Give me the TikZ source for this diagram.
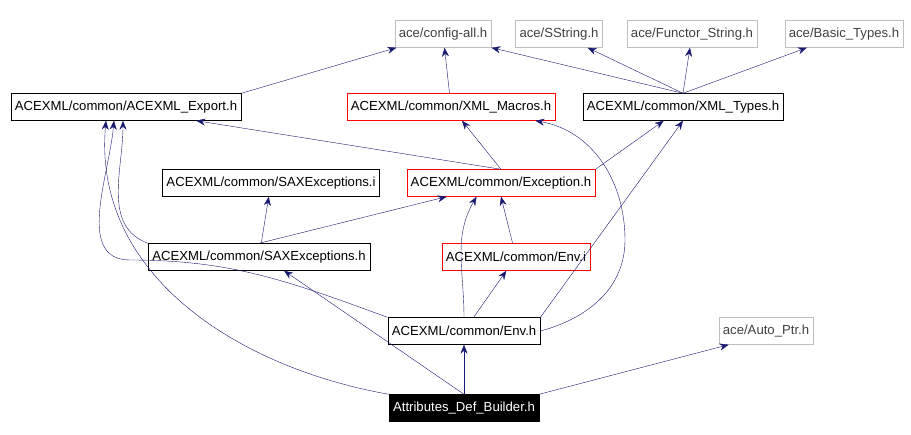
\documentclass[tikz,border=0pt]{standalone}
\usepackage{fontspec}
\setmainfont{Liberation Sans}
\usetikzlibrary{arrows.meta,positioning}
\definecolor{edgeblue}{RGB}{25,25,112}
\definecolor{grayline}{RGB}{191,191,191}

\begin{document}
\begin{tikzpicture}[
  x=1bp, y=-1bp,
  box/.style={rectangle, draw, minimum height=27bp, inner xsep=4bp, font=\fontsize{13.2}{15}\selectfont},
  sysbox/.style={box, draw=grayline, text=black!75},
  redbox/.style={box, draw=red},
  rootbox/.style={box, fill=black, text=white},
  arr/.style={{Stealth[length=9pt,width=7pt]}-, draw=edgeblue, thin}
]
\useasboundingbox (0,0) rectangle (911,435);

% system headers
\node[sysbox] (config) at (443,34) {ace/config-all.h};
\node[sysbox] (sstring) at (559,34) {ace/SString.h};
\node[sysbox] (functor) at (692,34) {ace/Functor\_String.h};
\node[sysbox] (basic) at (844,34) {ace/Basic\_Types.h};
\node[sysbox] (autoptr) at (766,331) {ace/Auto\_Ptr.h};

% ACEXML headers
\node[box] (export) at (126,107) {ACEXML/common/ACEXML\_Export.h};
\node[redbox] (macros) at (451,107) {ACEXML/common/XML\_Macros.h};
\node[box] (types) at (683,107) {ACEXML/common/XML\_Types.h};
\node[box] (saxi) at (271,183) {ACEXML/common/SAXExceptions.i};
\node[redbox] (exc) at (501,183) {ACEXML/common/Exception.h};
\node[box] (saxh) at (259,257) {ACEXML/common/SAXExceptions.h};
\node[redbox] (envi) at (516,257) {ACEXML/common/Env.i};
\node[box] (envh) at (464,331) {ACEXML/common/Env.h};
\node[rootbox] (root) at (464,408) {Attributes\_Def\_Builder.h};

% edges
\draw[arr] (config) -- (export.north east);
\draw[arr] (config) -- (macros);
\draw[arr] (config.south east) -- (types.north);
\draw[arr] (sstring) -- (types.north);
\draw[arr] (functor) -- (types.north);
\draw[arr] (basic) -- (types.north);
\draw[arr] (export.south east) ++(-45,0) coordinate (e1) (e1) -- (exc.north);
\draw[arr] (macros) -- (exc.north);
\draw[arr] (types) -- (exc.north east);
\draw[arr] (export.south) ++(-3,0) coordinate (e2) (e2) to[out=-90,in=160] (saxh.north west);
\draw[arr] (saxi) -- (saxh);
\draw[arr] (exc.south west) ++(40,0) coordinate (x1) (x1) -- (saxh.north);
\draw[arr] (exc.south) -- (envi);
\draw[arr] (exc.south west) ++(70,0) coordinate (x2) (x2) to[out=-120,in=90] (envh.north);
\draw[arr] (envi) -- (envh);
\draw[arr] (export.south) ++(-12,0) coordinate (e3) (e3) to[out=-95,in=180] (130,260) to[out=0,in=160] (envh.north west);
\draw[arr] (macros.south east) ++(-20,0) coordinate (m1) (m1) to[out=-10,in=90] (625,240) to[out=-90,in=15] (envh.east);
\draw[arr] (types.south) -- (envh.north east);
\draw[arr] (export.south) ++(-20,0) coordinate (e4) (e4) to[out=-95,in=170] (root.north west);
\draw[arr] (saxh.south) ++(25,0) coordinate (s1) (s1) -- (root.north);
\draw[arr] (envh) -- (root);
\draw[arr] (autoptr.south west) ++(10,0) coordinate (a1) (a1) -- (root.north east);
\end{tikzpicture}
\end{document}
